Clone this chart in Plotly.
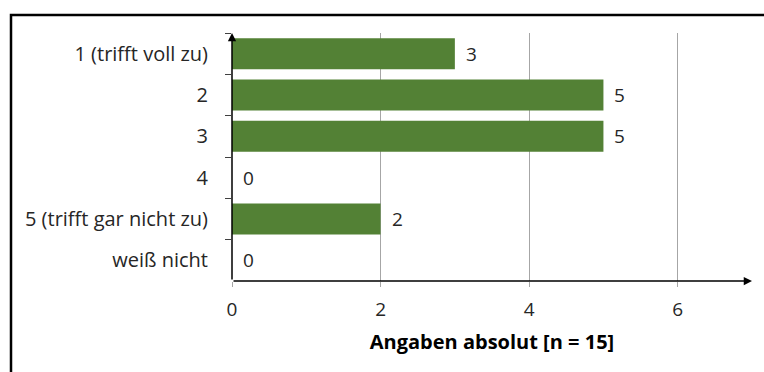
import plotly.graph_objects as go

# Survey answers (absolute counts, n = 15)
categories = ["1 (trifft voll zu)", "2", "3", "4", "5 (trifft gar nicht zu)", "weiß nicht"]
counts = [3, 5, 5, 0, 2, 0]
x_ticks = [0, 2, 4, 6]
x_title = "Angaben absolut [n = 15]"

BAR = "#538135"
FONT = "Open Sans, Noto Sans, sans-serif"
FS = 20
TXT = "#262626"

W, H = 764, 372
L, R, T, B = 232, 12, 33, 91
pw, ph = W - L - R, H - T - B

fig = go.Figure(
    go.Bar(
        x=counts,
        y=categories,
        orientation="h",
        marker=dict(color=BAR, line=dict(width=0)),
        width=0.75,
        hoverinfo="skip",
    )
)

# value labels just right of each bar end (category index as y position)
for i, v in enumerate(counts):
    fig.add_annotation(
        x=v, y=i, xref="x", yref="y", text=str(v), showarrow=False,
        xanchor="left", xshift=9, font=dict(family=FONT, size=FS - 1, color=TXT),
    )

# axis lines with arrowheads
fig.add_annotation(
    x=0, y=1.0, xref="x", yref="paper", ax=0, ay=ph, axref="pixel", ayref="pixel",
    text="", showarrow=True, arrowhead=2, arrowsize=1.1, arrowwidth=1.5,
    arrowcolor="#000000", standoff=0, startstandoff=0,
)
fig.add_annotation(
    x=7, y=0, xref="x", yref="paper", ax=-pw, ay=0, axref="pixel", ayref="pixel",
    text="", showarrow=True, arrowhead=2, arrowsize=1.1, arrowwidth=1.5,
    arrowcolor="#000000", standoff=0, startstandoff=0,
)

# outer frame
fig.add_shape(
    type="rect", xref="paper", yref="paper",
    x0=(11 - L) / pw, x1=(W + 20 - L) / pw,
    y0=-(H + 20 - (T + ph)) / ph, y1=(T + ph - 15) / ph,
    line=dict(color="#000000", width=2.5), fillcolor="rgba(0,0,0,0)", layer="above",
)

fig.update_layout(
    width=W, height=H,
    margin=dict(l=L, r=R, t=T, b=B),
    paper_bgcolor="white", plot_bgcolor="white",
    showlegend=False,
    font=dict(family=FONT, size=FS, color=TXT),
    bargap=0.25,
)
fig.update_xaxes(
    range=[0, 7], tickvals=x_ticks, ticktext=[str(t) for t in x_ticks],
    showgrid=True, gridcolor="#a6a6a6", gridwidth=1,
    zeroline=False, showline=False,
    ticks="outside", ticklen=5, tickcolor="#a6a6a6",
    ticklabelstandoff=6,
    tickfont=dict(family=FONT, size=FS - 1, color=TXT),
    title=dict(text="<b>" + x_title + "</b>", font=dict(family=FONT, size=FS, color="#000000"), standoff=14),
    fixedrange=True,
)
fig.update_yaxes(
    categoryorder="array", categoryarray=categories, autorange="reversed",
    showgrid=False, zeroline=False, showline=False,
    ticks="outside", ticklen=6, tickcolor="#404040", tickson="boundaries",
    ticklabelstandoff=23,
    tickfont=dict(family=FONT, size=FS, color=TXT),
    fixedrange=True,
)

fig.write_html("out.html")
